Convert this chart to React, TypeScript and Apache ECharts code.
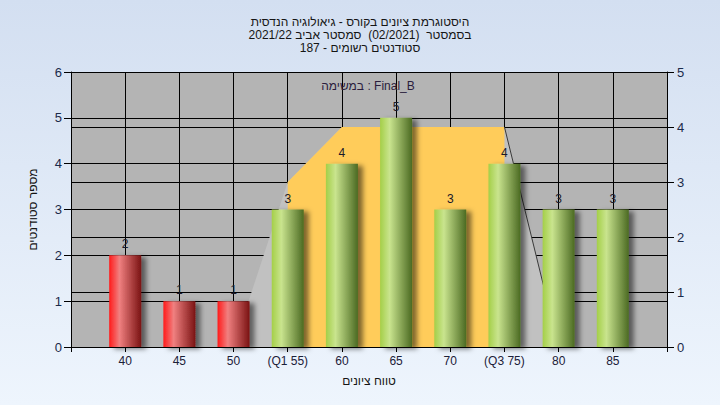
import React, { useEffect, useRef } from "react";
import * as echarts from "echarts";

const titleLines = [
  "היסטוגרמת ציונים בקורס - גיאולוגיה הנדסית",
  "בסמסטר  (02/2021)  סמסטר אביב 2021/22",
  "סטודנטים רשומים - 187",
];
const taskText = "במשימה : Final_B";
const xAxisName = "טווח ציונים";
const yAxisName = "מספר סטודנטים";

const scores = [40, 45, 50, 55, 60, 65, 70, 75, 80, 85];
const counts = [2, 1, 1, 3, 4, 5, 3, 4, 3, 3];
const scoreLabels = ["40", "45", "50", "(Q1 55)", "60", "65", "70", "(Q3 75)", "80", "85"];
const passMark = 55;

// distribution shape (right axis)
const rangeX = [50, 55, 60, 75, 80];
const rangeY = [0, 3, 4, 4, 0];
const iqrX = [55, 60, 75];
const iqrY = [3, 4, 4];
const tailX = [75, 80];
const tailY = [4, 0];

const FONT = "'Liberation Sans', 'DejaVu Sans', sans-serif";

export default function App() {
  const ref = useRef<HTMLDivElement>(null);
  useEffect(() => {
    if (!ref.current) return;
    const chart = echarts.init(ref.current, null, { renderer: "svg" });
    const redGrad = new echarts.graphic.LinearGradient(0, 0, 1, 0, [
      { offset: 0, color: "#ff1a1a" },
      { offset: 0.32, color: "#f08080" },
      { offset: 1, color: "#7a1212" },
    ]);
    const greenGrad = new echarts.graphic.LinearGradient(0, 0, 1, 0, [
      { offset: 0, color: "#a4cf48" },
      { offset: 0.3, color: "#c9e48e" },
      { offset: 1, color: "#4b6a22" },
    ]);
    const labelMap: Record<number, string> = {};
    scores.forEach((s, i) => (labelMap[s] = scoreLabels[i]));
    const split = { show: true, lineStyle: { color: "#000", width: 1 } };
    chart.setOption({
      animation: false,
      title: {
        text: titleLines.join("\n"),
        left: "center",
        top: 10,
        textStyle: {
          fontSize: 12,
          fontWeight: "normal",
          lineHeight: 13,
          color: "#151515",
          fontFamily: FONT,
        },
      },
      grid: { left: 71, right: 53, top: 72, bottom: 58 },
      xAxis: {
        type: "value",
        min: 35,
        max: 90,
        interval: 5,
        name: xAxisName,
        nameLocation: "middle",
        nameGap: 28,
        nameTextStyle: { fontSize: 12, color: "#151515", fontFamily: FONT },
        axisLine: { show: true, lineStyle: { color: "#000" } },
        axisTick: { show: true, length: 5, lineStyle: { color: "#000" } },
        axisLabel: {
          fontSize: 12,
          color: "#1b2038",
          fontFamily: FONT,
          margin: 8,
          formatter: (v: number) => labelMap[v] ?? "",
        },
        splitLine: split,
      },
      yAxis: [
        {
          type: "value",
          min: 0,
          max: 6,
          interval: 1,
          position: "left",
          name: yAxisName,
          nameLocation: "middle",
          nameGap: 32,
          nameTextStyle: { fontSize: 12, color: "#151515", fontFamily: FONT },
          axisLine: { show: true, lineStyle: { color: "#000" } },
          axisTick: { show: true, length: 7, lineStyle: { color: "#000" } },
          axisLabel: { fontSize: 13, color: "#1b2a4a", fontFamily: FONT, margin: 9 },
          splitLine: split,
        },
        {
          type: "value",
          min: 0,
          max: 5,
          interval: 1,
          position: "right",
          axisLine: { show: true, lineStyle: { color: "#000" } },
          axisTick: { show: true, length: 7, lineStyle: { color: "#000" } },
          axisLabel: { fontSize: 13, color: "#1b2a4a", fontFamily: FONT, margin: 10 },
          splitLine: split,
        },
      ],
      graphic: [
        {
          type: "rect",
          z: -10,
          shape: { x: 71, y: 72, width: 596, height: 275 },
          style: { fill: "#b4b4b4" },
          silent: true,
        },
        {
          type: "text",
          x: 368,
          y: 86,
          z: 100,
          style: {
            text: taskText,
            fontSize: 12,
            fill: "#2b1d3d",
            fontFamily: FONT,
            align: "center",
            verticalAlign: "middle",
          },
        },
      ],
      series: [
        {
          type: "line",
          yAxisIndex: 1,
          data: rangeX.map((x, i) => [x, rangeY[i]]),
          symbol: "none",
          lineStyle: { width: 0 },
          areaStyle: { color: "#c1c1c1", opacity: 1 },
          z: 1,
        },
        {
          type: "line",
          yAxisIndex: 1,
          data: iqrX.map((x, i) => [x, iqrY[i]]),
          symbol: "none",
          lineStyle: { width: 0 },
          areaStyle: { color: "#ffcc5a", opacity: 1 },
          z: 2,
        },
        {
          type: "line",
          yAxisIndex: 1,
          data: tailX.map((x, i) => [x, tailY[i]]),
          symbol: "none",
          lineStyle: { width: 1, color: "#3a3a3a" },
          z: 3,
        },
        {
          type: "bar",
          yAxisIndex: 0,
          barWidth: 32,
          z: 5,
          data: scores.map((s, i) => ({
            value: [s, counts[i]],
            itemStyle: { color: s < passMark ? redGrad : greenGrad },
          })),
          itemStyle: {
            shadowColor: "rgba(0,0,0,0.5)",
            shadowBlur: 5,
            shadowOffsetX: 5,
            shadowOffsetY: 2,
          },
          label: {
            show: true,
            position: "top",
            distance: 5,
            fontSize: 12,
            color: "#1a1a2a",
            fontFamily: FONT,
            formatter: (p: any) => String(p.value[1]),
          },
        },
      ],
    });
    return () => chart.dispose();
  }, []);
  return (
    <div
      style={{
        position: "fixed",
        left: 0,
        top: 0,
        width: 720,
        height: 405,
        background: "linear-gradient(to bottom, #d3dff1, #eef5fd)",
      }}
    >
      <div ref={ref} style={{ width: 720, height: 405 }} />
    </div>
  );
}
